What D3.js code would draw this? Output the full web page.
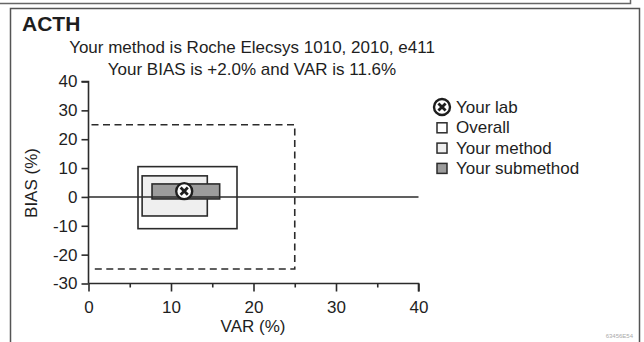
<!DOCTYPE html>
<html>
<head>
<meta charset="utf-8">
<script src="https://cdnjs.cloudflare.com/ajax/libs/d3/7.8.5/d3.min.js"></script>
<style>
  html, body { margin: 0; padding: 0; background: #fff; }
  svg text { font-family: "Liberation Sans", Arial, sans-serif; fill: #1e1e1e; }
</style>
</head>
<body>
<svg id="chart" width="644" height="342"></svg>
<script>
// data
var analyte = "ACTH",
  subtitle = ["Your method is Roche Elecsys 1010, 2010, e411",
              "Your BIAS is +2.0% and VAR is 11.6%"];

var boxNames = ["Overall", "Your method", "Your submethod"],
  boxVarLow = [6.0, 6.5, 7.7],
  boxVarHigh = [18.0, 14.4, 15.9],
  boxBiasLow = [-11.0, -6.6, -0.7],
  boxBiasHigh = [10.5, 7.3, 4.5];

var labVar = [11.6],
  labBias = [2.0];

// acceptance limits (dashed)
var limitVar = [0, 25],
  limitBias = [-25, 25];

var xTicks = [0, 10, 20, 30, 40],
  xMinorTicks = [5, 15, 25, 35],
  yTicks = [-30, -20, -10, 0, 10, 20, 30, 40];

var legendNames = ["Your lab"].concat(boxNames);

/* drawing */
var svg = d3.select("#chart"),
  ink = "#2b2b2b",
  plain = function(d){ return String(d); }; // keep ascii hyphen for negatives

var boxFill = ["#ffffff", "#efefef", "#9c9c9c"];

var x = d3.scaleLinear().domain([0, 40]).range([88.5, 418.5]),
  y = d3.scaleLinear().domain([-30, 40]).range([283.5, 81.5]);

// scanned page frame
svg.append("path")
  .attr("d", "M0,3.5H630.5V0")
  .attr("fill", "none").attr("stroke", "#666").attr("stroke-width", 1.5);
svg.append("path")
  .attr("d", "M10.5,345V8.5H639.5V345")
  .attr("fill", "none").attr("stroke", "#555").attr("stroke-width", 1.5);

// titles
svg.append("text")
  .attr("x", 22).attr("y", 31)
  .style("font-size", "21px").style("font-weight", "bold")
  .text(analyte);

svg.selectAll("text.sub")
  .data(subtitle)
  .enter().append("text")
  .attr("class", "sub")
  .attr("x", 252)
  .attr("y", function(d, i){ return 53 + i * 22; })
  .attr("text-anchor", "middle")
  .style("font-size", "17px")
  .text(function(d){ return d; });

// dashed limits box (left side sits on the axis)
var lx0 = x(limitVar[0]) + 3, lx1 = x(limitVar[1]),
  ly0 = y(limitBias[1]), ly1 = y(limitBias[0]);
svg.append("path")
  .attr("d", "M" + lx0 + "," + ly0 + "H" + lx1 + "V" + ly1 + "H" + lx0)
  .attr("fill", "none")
  .attr("stroke", ink)
  .attr("stroke-width", 1.6)
  .attr("stroke-dasharray", "7,4.5");

// method boxes
var boxes = boxNames.map(function(n, i){
  return {name: n, x0: boxVarLow[i], x1: boxVarHigh[i],
          y0: boxBiasLow[i], y1: boxBiasHigh[i], fill: boxFill[i]};
});

svg.selectAll("rect.box")
  .data(boxes)
  .enter().append("rect")
  .attr("class", "box")
  .attr("x", function(d){ return x(d.x0); })
  .attr("y", function(d){ return y(d.y1); })
  .attr("width", function(d){ return x(d.x1) - x(d.x0); })
  .attr("height", function(d){ return y(d.y0) - y(d.y1); })
  .attr("fill", function(d){ return d.fill; })
  .attr("stroke", ink)
  .attr("stroke-width", 1.6);

// zero line
svg.append("line")
  .attr("x1", x(0)).attr("x2", x(40))
  .attr("y1", y(0)).attr("y2", y(0))
  .attr("stroke", ink).attr("stroke-width", 1.6);

// your lab marker
var labMark = function(g, cx, cy, r){
  g.append("circle")
    .attr("cx", cx).attr("cy", cy).attr("r", r)
    .attr("fill", "#fff").attr("stroke", "#1e1e1e").attr("stroke-width", 2.4);
  var k = r * 0.45;
  g.append("path")
    .attr("d", "M" + (cx - k) + "," + (cy - k) + "L" + (cx + k) + "," + (cy + k) +
               "M" + (cx + k) + "," + (cy - k) + "L" + (cx - k) + "," + (cy + k))
    .attr("stroke", "#1e1e1e").attr("stroke-width", 2.8);
};

labVar.forEach(function(v, i){
  labMark(svg.append("g"), x(v), y(labBias[i]), 8);
});

// axes
var yAxis = svg.append("g")
  .attr("transform", "translate(" + x(0) + ",0)")
  .call(d3.axisLeft(y).tickValues(yTicks).tickSize(7).tickPadding(4)
    .tickFormat(plain));

var xAxis = svg.append("g")
  .attr("transform", "translate(0," + y(-30) + ")")
  .call(d3.axisBottom(x).tickValues(xTicks).tickSize(8).tickPadding(9)
    .tickFormat(plain));

svg.append("g")
  .attr("transform", "translate(0," + y(-30) + ")")
  .call(d3.axisBottom(x).tickValues(xMinorTicks).tickSize(4).tickFormat(""))
  .select(".domain").remove();

svg.selectAll(".tick line, .domain")
  .attr("stroke", ink)
  .attr("stroke-width", 1.6);
yAxis.select(".domain").attr("d", "M-7," + y(40) + "H0V" + y(-30));
xAxis.select(".domain").attr("d", "M" + x(0) + ",0H" + x(40) + "V8");

svg.selectAll(".tick text")
  .style("font-size", "17px")
  .style("font-family", "'Liberation Sans', Arial, sans-serif")
  .attr("fill", "#1e1e1e");

// axis titles
svg.append("text")
  .attr("transform", "translate(37,183) rotate(-90)")
  .attr("text-anchor", "middle")
  .style("font-size", "17px")
  .text("BIAS (%)");

svg.append("text")
  .attr("x", 253).attr("y", 332)
  .attr("text-anchor", "middle")
  .style("font-size", "17px")
  .text("VAR (%)");

// legend
var legend = svg.append("g")
  .selectAll("g")
  .data(legendNames)
  .enter().append("g")
  .attr("transform", function(d, i){ return "translate(442," + (107 + i * 20.3) + ")"; });

legend.each(function(d, i){
  var g = d3.select(this);
  if(i === 0){
    labMark(g, 0, 0, 8);
  } else {
    g.append("rect")
      .attr("x", -5).attr("y", -4.5)
      .attr("width", 10).attr("height", 10)
      .attr("fill", boxFill[i - 1])
      .attr("stroke", ink).attr("stroke-width", 1.5);
  }
  g.append("text")
    .attr("x", 14).attr("y", 6)
    .style("font-size", "17px")
    .text(d);
});

// scanner id
svg.append("text")
  .attr("x", 633).attr("y", 338)
  .attr("text-anchor", "end")
  .style("font-size", "6px")
  .style("fill", "#aaa")
  .text("63456E54");
</script>
</body>
</html>
